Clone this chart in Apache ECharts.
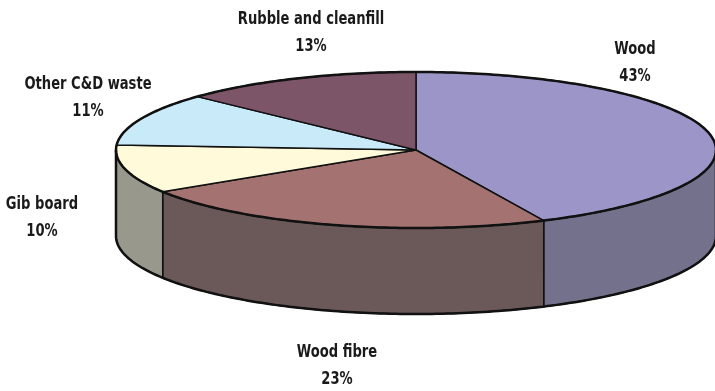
<!DOCTYPE html>
<html lang="en">
<head>
    <meta charset="UTF-8">
    <title>C&amp;D waste composition</title>
    <script src="https://cdn.jsdelivr.net/npm/echarts@6/dist/echarts.min.js"></script>
    <style>
        html, body { margin: 0; padding: 0; background: #fff; }
        #chart { width: 715px; height: 391px; }
    </style>
</head>
<body>
    <div id="chart"></div>
    <script>
        // data, clockwise from 12 o'clock
        const names = ['Wood', 'Wood fibre', 'Gib board', 'Other C&D waste', 'Rubble and cleanfill'];
        const shares = [43, 23, 10, 11, 13];

        const topColors = ['#9b95c8', '#a37271', '#fffad9', '#c9eaf9', '#7d5569'];
        const sideColors = ['#73718b', '#6b5959', '#98988d', '#8fa6b0', '#5a3d4b'];

        // label block centres (layout only)
        const labelPos = [[635, 63], [337, 366], [42, 218], [88, 98], [311, 33]];

        // pie geometry
        const cx = 416, cy = 150, rx = 300, ry = 78, depth = 86;
        const font = 'bold 18px "Liberation Sans Narrow", "DejaVu Sans Condensed", sans-serif';

        const total = shares.reduce((a, b) => a + b, 0);
        const starts = [];
        let acc = 0;
        shares.forEach(v => { starts.push(acc / total * 360); acc += v; });

        function pt(deg, dy) {
            const r = deg * Math.PI / 180;
            return [cx + rx * Math.sin(r), cy - ry * Math.cos(r) + (dy || 0)];
        }
        function arc(a, b, dy) {
            const out = [];
            const n = Math.max(2, Math.ceil(Math.abs(b - a)));
            for (let i = 0; i <= n; i++) out.push(pt(a + (b - a) * i / n, dy));
            return out;
        }

        const chart = echarts.init(document.getElementById('chart'));

        chart.setOption({
            animation: false,
            series: [
                {
                    // side walls
                    type: 'custom',
                    coordinateSystem: 'none',
                    z: 1,
                    data: shares,
                    renderItem: (params, api) => {
                        const i = params.dataIndex;
                        const a0 = starts[i];
                        const a1 = a0 + api.value(0) / total * 360;
                        const s = Math.max(a0, 90), e = Math.min(a1, 270);
                        if (e <= s) return { type: 'group', children: [] };
                        const top = arc(s, e, 0);
                        const bottom = arc(e, s, depth);
                        return {
                            type: 'polygon',
                            shape: { points: top.concat(bottom) },
                            style: { fill: sideColors[i], stroke: '#111', lineWidth: 1.5, lineJoin: 'round' }
                        };
                    }
                },
                {
                    // top faces and labels
                    type: 'custom',
                    coordinateSystem: 'none',
                    z: 2,
                    data: shares,
                    renderItem: (params, api) => {
                        const i = params.dataIndex;
                        const v = api.value(0);
                        const a0 = starts[i];
                        const a1 = a0 + v / total * 360;
                        const pts = [[cx, cy]].concat(arc(a0, a1, 0));
                        return {
                            type: 'group',
                            children: [
                                {
                                    type: 'polygon',
                                    shape: { points: pts },
                                    style: { fill: topColors[i], stroke: '#111', lineWidth: 1.5, lineJoin: 'round' }
                                },
                                {
                                    type: 'text',
                                    z2: 10,
                                    x: labelPos[i][0],
                                    y: labelPos[i][1],
                                    scaleX: 0.81,
                                    style: {
                                        text: names[i] + '\n' + Math.round(v / total * 100) + '%',
                                        x: 0,
                                        y: 0,
                                        align: 'center',
                                        verticalAlign: 'middle',
                                        lineHeight: 27,
                                        font: font,
                                        fill: '#1a1a1a'
                                    }
                                }
                            ]
                        };
                    }
                },
                {
                    // outer outline
                    type: 'custom',
                    coordinateSystem: 'none',
                    z: 3,
                    data: [0],
                    renderItem: () => ({
                        type: 'group',
                        children: [
                            {
                                type: 'polyline',
                                shape: { points: arc(0, 360, 0) },
                                style: { fill: null, stroke: '#111', lineWidth: 2.5 }
                            },
                            {
                                type: 'polyline',
                                shape: { points: [pt(90, 0)].concat(arc(90, 270, depth)).concat([pt(270, 0)]) },
                                style: { fill: null, stroke: '#111', lineWidth: 2.5, lineJoin: 'round' }
                            }
                        ]
                    })
                }
            ]
        });

        window.addEventListener('resize', () => chart.resize());
    </script>
</body>
</html>
